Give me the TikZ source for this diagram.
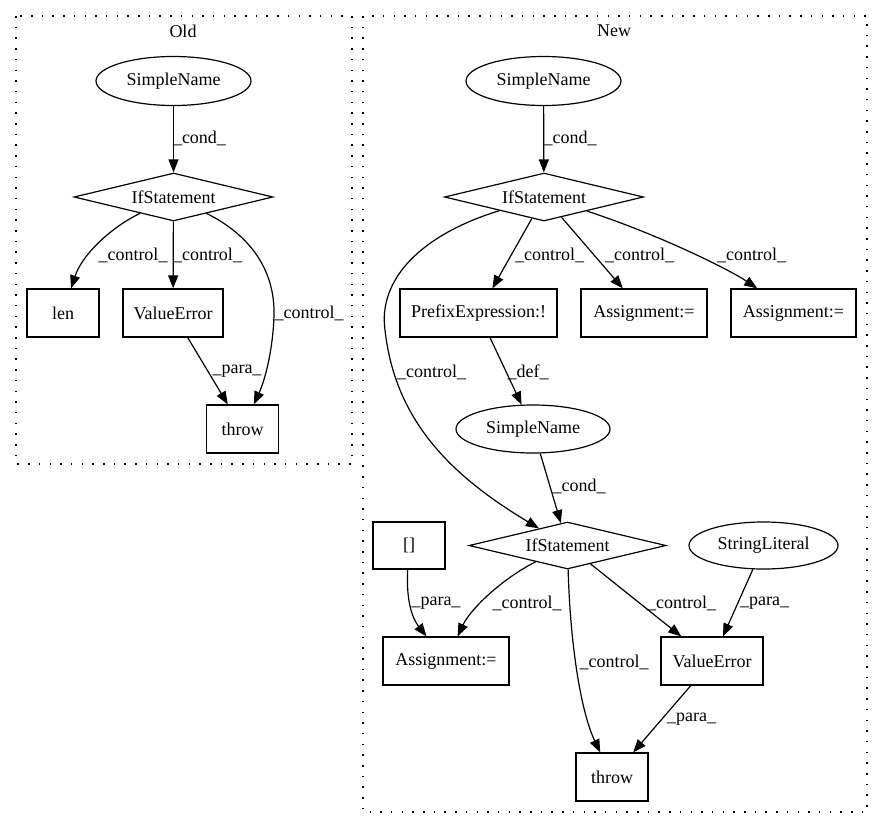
\documentclass[tikz,border=0pt]{standalone}
\usepackage{fontspec}
\setmainfont{Liberation Serif}
\usetikzlibrary{shapes.geometric,arrows.meta}
\begin{document}
\begin{tikzpicture}[x=1pt,y=-1pt,
  every node/.style={font=\fontsize{18}{20}\selectfont, inner sep=0pt},
  ell/.style={draw, ellipse, line width=1.2pt, minimum width=155pt, minimum height=49pt},
  dia/.style={draw, diamond, aspect=4.15, line width=1.2pt, minimum width=199pt, minimum height=48pt},
  box/.style={draw, rectangle, line width=1.2pt, minimum height=48pt},
  lbl/.style={font=\fontsize{18}{20}\selectfont},
  edge/.style={draw, line width=1.2pt, -{Triangle[length=13pt,width=10pt]}},
  clus/.style={draw, line width=1.2pt, dash pattern=on 1.5pt off 9.2pt}
]
\useasboundingbox (0,0) rectangle (883,828);
% clusters
\draw[clus] (16,16) rectangle (352,464);
\draw[clus] (363,16) rectangle (867,812);
\node (tOld) at (183,31) {Old};
\node (tNew) at (614,31) {New};

% Old nodes
\node[ell] (sno) at (173.5,81) {SimpleName};
\node[dia] (ifo) at (173.5,197) {IfStatement};
\node[box, minimum width=72pt] (leno) at (63,313) {len};
\node[box, minimum width=100pt] (veo) at (173,313) {ValueError};
\node[box, minimum width=72pt] (thro) at (242.5,429) {throw};

% Old edges
\draw[edge] (sno) -- (ifo);
\draw[edge] (ifo) .. controls (110,228) and (82,255) .. (leno);
\draw[edge] (ifo) -- (veo);
\draw[edge] (ifo) .. controls (250,235) and (275,270) .. (274,315) .. controls (273,350) and (265,380) .. (thro);
\draw[edge] (veo) -- (thro);
\node[lbl] (l1) at (199.5,138) {\_cond\_};
\node[lbl] (l2) at (133,255) {\_control\_};
\node[lbl] (l3) at (207.5,255) {\_control\_};
\node[lbl] (l4) at (309,313) {\_control\_};
\node[lbl] (l5) at (237,371) {\_para\_};

% New nodes
\node[ell] (snn) at (543.5,81) {SimpleName};
\node[dia] (ifn) at (544,197) {IfStatement};
\node[box, minimum width=157pt] (pre) at (478.5,313) {PrefixExpression:!};
\node[box, minimum width=126pt] (as1) at (644,313) {Assignment:=};
\node[box, minimum width=125pt] (as2) at (793.5,313) {Assignment:=};
\node[ell, minimum width=154pt, minimum height=48pt] (sn2) at (533,429) {SimpleName};
\node[dia, minimum width=197pt, minimum height=47pt] (ifn2) at (567.5,545.5) {IfStatement};
\node[box, minimum width=72pt, minimum height=47pt] (br) at (409,545.5) {[]};
\node[ell, minimum width=149pt, minimum height=47pt] (sl) at (763.5,545.5) {StringLiteral};
\node[box, minimum width=126pt] (asn) at (446,661) {Assignment:=};
\node[box, minimum width=102pt] (ven) at (712,661) {ValueError};
\node[box, minimum width=72pt] (thrn) at (612,777) {throw};

% New edges
\draw[edge] (snn) -- (ifn);
\draw[edge] (ifn) -- (pre);
\draw[edge] (ifn) -- (as1);
\draw[edge] (ifn) .. controls (660,235) and (730,270) .. (as2);
\draw[edge] (ifn) .. controls (420,235) and (378,280) .. (385,330) .. controls (395,420) and (450,475) .. (ifn2);
\draw[edge] (pre) -- (sn2);
\draw[edge] (sn2) -- (ifn2);
\draw[edge] (br) .. controls (406,600) and (412,618) .. (asn);
\draw[edge] (ifn2) .. controls (500,580) and (470,610) .. (asn);
\draw[edge] (ifn2) .. controls (570,640) and (580,710) .. (thrn);
\draw[edge] (ifn2) -- (ven);
\draw[edge] (sl) -- (ven);
\draw[edge] (ven) -- (thrn);

\node[lbl] (m1) at (570,138) {\_cond\_};
\node[lbl] (m2) at (549.5,255) {\_control\_};
\node[lbl] (m3) at (639.5,255) {\_control\_};
\node[lbl] (m4) at (751.5,255) {\_control\_};
\node[lbl] (m5) at (431.5,372) {\_control\_};
\node[lbl] (m6) at (528,372) {\_def\_};
\node[lbl] (m7) at (579,486) {\_cond\_};
\node[lbl] (m8) at (436,603) {\_para\_};
\node[lbl] (m9) at (527,603) {\_control\_};
\node[lbl] (m10) at (681.5,603) {\_control\_};
\node[lbl] (m11) at (764.5,603) {\_para\_};
\node[lbl] (m12) at (614,662) {\_control\_};
\node[lbl] (m13) at (691.5,719) {\_para\_};
\end{tikzpicture}
\end{document}
